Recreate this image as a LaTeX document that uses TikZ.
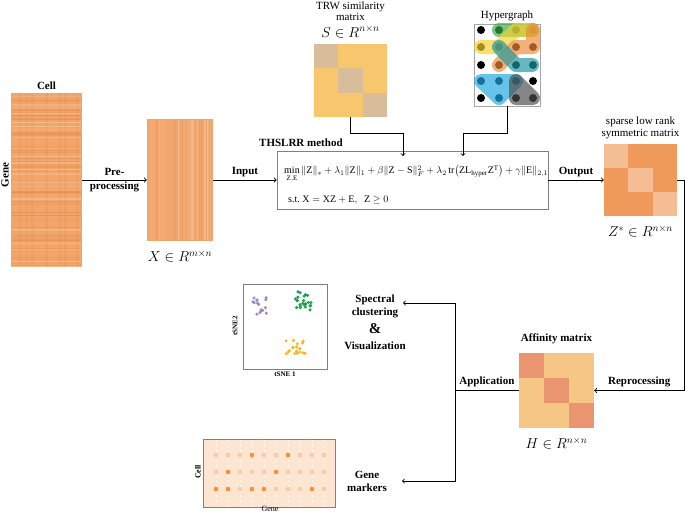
\documentclass[tikz,border=0pt]{standalone}
\usepackage{amsmath}
\usepackage{amssymb}
\usepackage{fontspec}
\setmainfont{Liberation Serif}
\usetikzlibrary{positioning,calc}

\definecolor{rawbase}{HTML}{F3A66C}
\definecolor{rawdark}{HTML}{E08A48}
\definecolor{rawlite}{HTML}{F8C39A}
\definecolor{sdiag}{HTML}{D7BD99}
\definecolor{soff}{HTML}{F8C66C}
\definecolor{zdiag}{HTML}{F5BD93}
\definecolor{zoff}{HTML}{EF9A5B}
\definecolor{hdiag}{HTML}{EB9470}
\definecolor{hoff}{HTML}{F6C784}
\definecolor{mkbg}{HTML}{FCE6D2}
\definecolor{mklite}{HTML}{F8CBA3}
\definecolor{mkdark}{HTML}{F2923A}
\definecolor{tpurp}{HTML}{9C8CC6}
\definecolor{tgreen}{HTML}{19A34A}
\definecolor{tyell}{HTML}{F7B61E}
\definecolor{hgreen}{HTML}{3DAA4A}
\definecolor{hyell}{HTML}{F6D12E}
\definecolor{horan}{HTML}{EE8B3A}
\definecolor{hteal}{HTML}{1F97A0}
\definecolor{hblue}{HTML}{1EA7E0}
\definecolor{hgray}{HTML}{4D4D4D}

\tikzset{
  lbl/.style={font=\fontsize{11}{13}\selectfont\bfseries, align=center, inner sep=1pt},
  captxt/.style={font=\fontsize{11}{12}\selectfont, align=center, inner sep=1pt},
  mlab/.style={font=\fontsize{14}{16}\selectfont, inner sep=1pt},
  arr/.style={->, line width=0.9pt},
  wire/.style={line width=0.9pt},
  hedge/.style={line width=14pt, line cap=round, line join=round, draw opacity=0.68},
  blockmat/.style 2 args={fill=#1, inner sep=0pt, path picture={
      \foreach \k in {0,1,2}{
        \fill[#2] ($(path picture bounding box.north west)!{\k/3}!(path picture bounding box.south east)$)
          rectangle ($(path picture bounding box.north west)!{(\k+1)/3}!(path picture bounding box.south east)$);
      }}},
}

\begin{document}
\begin{tikzpicture}[x=1pt,y=-1pt]
\useasboundingbox (0,0) rectangle (685,514);
\pgfmathsetseed{42}

\node[fill=rawbase, inner sep=0pt, minimum width=71pt, minimum height=174pt] (raw) at (46.5,180) {};
\foreach \xx in {18,25,31,45,58,64,76}{
  \fill[rawdark, opacity=0.18] (\xx,93) rectangle ++(3,174);
}
\foreach \i in {1,...,55}{
  \pgfmathsetmacro\yy{94+172*rnd}
  \pgfmathsetmacro\op{0.15+0.45*rnd}
  \draw[rawdark, opacity=\op, line width=0.8pt] (12,\yy) -- (81,\yy);
}
\foreach \i in {1,...,35}{
  \pgfmathsetmacro\yy{94+172*rnd}
  \pgfmathsetmacro\op{0.2+0.5*rnd}
  \draw[rawlite, opacity=\op, line width=0.7pt] (12,\yy) -- (81,\yy);
}
\node[lbl, above=2pt of raw] (cell) {Cell};
\node[lbl, rotate=90] (gene) at (5,175) {Gene};

\node[fill=rawbase, inner sep=0pt, minimum width=66pt, minimum height=122pt] (xmat) at (180,180) {};
\foreach \i in {1,...,40}{
  \pgfmathsetmacro\xx{148+64*rnd}
  \pgfmathsetmacro\op{0.15+0.4*rnd}
  \draw[rawlite, opacity=\op, line width=0.7pt] (\xx,120) -- (\xx,240);
}
\foreach \i in {1,...,20}{
  \pgfmathsetmacro\xx{148+64*rnd}
  \pgfmathsetmacro\op{0.1+0.3*rnd}
  \draw[rawdark, opacity=\op, line width=0.7pt] (\xx,120) -- (\xx,240);
}
\node[mlab, below=8pt of xmat] (xlab) {$X\in R^{m\times n}$};

\node[draw=gray, line width=0.6pt, minimum width=271pt, minimum height=58pt] (method) at (412.5,180) {};
\node[lbl, anchor=west] (mtitle) at (258,143) {THSLRR method};
\node[anchor=west, inner sep=0pt, font=\fontsize{10}{11}\selectfont] (eqa) at (284,174)
  {$\min\limits_{\mathrm{Z,E}} \|\mathrm{Z}\|_* + \lambda_1\|\mathrm{Z}\|_1 + \beta\|\mathrm{Z}-\mathrm{S}\|_F^2
   + \lambda_2\,\mathrm{tr}\big(\mathrm{Z}\mathrm{L}_{\mathrm{hyper}}\mathrm{Z}^{\mathrm{T}}\big) + \gamma\|\mathrm{E}\|_{2,1}$};
\node[anchor=west, inner sep=0pt, font=\fontsize{10}{11}\selectfont] (eqb) at (288,200)
  {s.t.\ $\mathrm{X}=\mathrm{XZ}+\mathrm{E},\ \ \mathrm{Z}\geq 0$};

\node[blockmat={soff}{sdiag}, minimum width=73pt, minimum height=73pt] (smat) at (350.5,80.5) {};
\node[mlab, above=5pt of smat] (slab) {$S\in R^{n\times n}$};
\node[captxt, font=\fontsize{11}{11}\selectfont, above=3pt of slab] (stitle) {TRW similarity\\matrix};

\node[draw=gray!70, fill=white, line width=0.8pt, minimum width=66pt, minimum height=82pt] (hyper) at (507,65) {};
\node[captxt, above=2pt of hyper] (htitle) {Hypergraph};
\foreach \xx in {481,499,516,533}{
  \foreach \yy in {30,47,65,81,98}{
    \fill (\xx,\yy) circle (4pt);
  }
}
\draw[hedge, hgreen] (499,30) -- (532,30);
\draw[hedge, hyell] (481,47) -- (499,47) -- (516,30) -- (532,30);
\draw[hedge, horan] (533,30) -- (533,47) -- (516,47) -- (499,65);
\draw[hedge, hteal] (499,47) -- (516,65) -- (532,65);
\draw[hedge, hblue] (481,81) -- (516,81) -- (499,98) -- cycle;
\draw[hedge, hgray] (516,81) -- (516,98) -- (533,98) -- cycle;

\node[blockmat={zoff}{zdiag}, minimum width=73pt, minimum height=72pt] (zmat) at (640.5,180) {};
\node[captxt, above=4pt of zmat] (ztitle) {sparse low rank\\symmetric matrix};
\node[mlab, below=8pt of zmat] (zlab) {$Z^*\in R^{n\times n}$};

\node[blockmat={hoff}{hdiag}, minimum width=75pt, minimum height=75pt] (hmat) at (556.5,390.5) {};
\node[lbl, above=8pt of hmat] (htitle2) {Affinity matrix};
\node[mlab, below=8pt of hmat] (hlab) {$H\in R^{n\times n}$};

\node[draw=gray, line width=0.6pt, minimum width=84pt, minimum height=85pt] (tsne) at (285,326.5) {};
\foreach \i in {1,...,16}{
  \fill[tpurp] ({260+8*rand},{306+9*rand}) circle (1.7pt);
}
\foreach \i in {1,...,24}{
  \fill[tgreen] ({303+8*rand},{300+10*rand}) circle (1.7pt);
}
\foreach \i in {1,...,18}{
  \fill[tyell] ({296+10*rand},{346+8*rand}) circle (1.7pt);
}
\node[font=\fontsize{7}{8}\selectfont\bfseries, inner sep=1pt, below=1pt of tsne] (tx) {tSNE 1};
\node[font=\fontsize{7}{8}\selectfont\bfseries, inner sep=1pt, rotate=90] (ty) at (235,326) {tSNE2};

\node[draw=gray, fill=mkbg, line width=0.6pt, minimum width=132pt, minimum height=68pt] (mkbox) at (269,473) {};
\foreach \k in {0,...,9}{
  \draw[white, dash pattern=on 2pt off 3pt, line width=0.5pt, opacity=0.8] ({216+12*\k},440) -- ({216+12*\k},506);
  \foreach \yy in {455,472,489}{
    \fill[mklite] ({216+12*\k},\yy) circle (2.3pt);
  }
}
\foreach \p in {(252,455),(288,455),(228,472),(276,472),(216,489),(228,489),(252,489),(264,489),(312,489)}{
  \fill[mkdark] \p circle (2.3pt);
}
\node[font=\fontsize{8}{9}\selectfont\bfseries, inner sep=1pt, rotate=90] (mcell) at (198,472) {Cell};
\node[font=\fontsize{8}{9}\selectfont, inner sep=1pt] (mgene) at (270,509) {Gene};

\node[lbl] (spec) at (375,322) {Spectral\\clustering\\[5pt]{\fontsize{15}{15}\selectfont\&}\\[3pt]Visualization};
\node[lbl] (genemk) at (367,481) {Gene\\markers};

\coordinate (sdrop) at (403,156);
\coordinate (hdrop) at (463,156);
\coordinate (split) at (455,390.5);
\coordinate (specin) at (403,303);
\coordinate (markin) at (402,481);

\draw[arr] (raw) -- (xmat) node[lbl, midway, font=\fontsize{11}{14}\selectfont\bfseries] {Pre-\\processing};
\draw[arr] (xmat) -- (method) node[lbl, midway, above=2pt] {Input};
\draw[arr] (method) -- (zmat) node[lbl, midway, above=2pt] {Output};
\draw[arr] (smat.south) -- (smat.south |- 0,133) -| (sdrop);
\draw[arr] (hyper.south) -- (hyper.south |- 0,133) -| (hdrop);
\draw[arr] (zmat.east) -- ++(7,0) |- (hmat.east) node[lbl, pos=0.75, above=2pt] {Reprocessing};
\draw[wire] (hmat.west) -- (split) node[lbl, midway, above=2pt] {Application};
\draw[arr] (split) |- (specin);
\draw[arr] (split) |- (markin);
\end{tikzpicture}
\end{document}
